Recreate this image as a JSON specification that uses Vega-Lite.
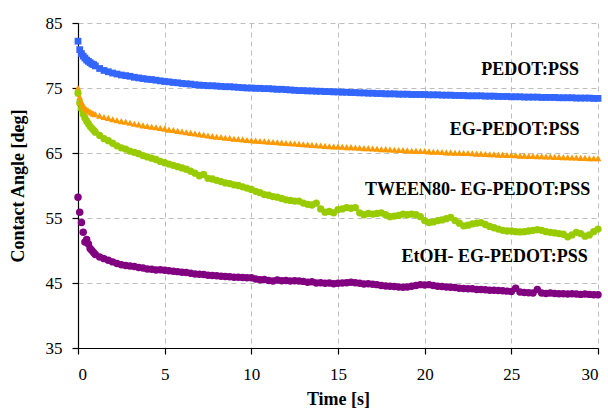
{
  "$schema": "https://vega.github.io/schema/vega-lite/v6.json",
  "width": 520,
  "height": 325,
  "autosize": {"type": "none"},
  "padding": {"left": 78, "top": 23, "right": 10, "bottom": 62},
  "background": "white",
  "config": {
    "font": "Liberation Serif",
    "view": {"stroke": null},
    "axis": {
      "grid": true,
      "gridColor": "#BDBDBD",
      "gridDash": [5, 4],
      "gridWidth": 1,
      "domainColor": "#000000",
      "domainWidth": 1.2,
      "tickColor": "#000000",
      "tickSize": 6,
      "tickWidth": 1.2,
      "labelColor": "#000000",
      "labelFontSize": 17,
      "labelFont": "Liberation Serif",
      "titleColor": "#000000",
      "titleFont": "Liberation Serif",
      "titleFontSize": 18,
      "titleFontWeight": "bold"
    }
  },
  "datasets": {
    "angles": [
      {"t": 0, "p": 82.2, "e": 75.0, "w": 74.2, "o": 58.2},
      {"t": 0.1, "p": 80.9, "e": 73.6, "w": 72.7, "o": 55.9},
      {"t": 0.2, "p": 80.3, "e": 72.8, "w": 71.8, "o": 54.3},
      {"t": 0.3, "p": 79.9, "e": 72.3, "w": 71.0, "o": 52.8},
      {"t": 0.4, "p": 79.6, "e": 71.9, "w": 70.4, "o": 51.3},
      {"t": 0.5, "p": 79.3, "e": 71.7, "w": 69.9, "o": 51.7},
      {"t": 0.6, "p": 79.1, "e": 71.5, "w": 69.5, "o": 51.0},
      {"t": 0.7, "p": 78.9, "e": 71.35, "w": 69.1, "o": 50.3},
      {"t": 0.8, "p": 78.7, "e": 71.2, "w": 68.8, "o": 50.0},
      {"t": 0.9, "p": 78.6, "e": 71.05, "w": 68.5, "o": 49.7},
      {"t": 1.0, "p": 78.4, "e": 70.95, "w": 68.2, "o": 49.4},
      {"t": 1.25, "p": 78.0, "e": 70.75, "w": 67.7, "o": 49.0},
      {"t": 1.5, "p": 77.7, "e": 70.55, "w": 67.2, "o": 48.75},
      {"t": 1.75, "p": 77.5, "e": 70.4, "w": 66.9, "o": 48.5},
      {"t": 2.0, "p": 77.3, "e": 70.2, "w": 66.5, "o": 48.25},
      {"t": 2.25, "p": 77.15, "e": 70.05, "w": 66.1, "o": 48.0},
      {"t": 2.5, "p": 77.0, "e": 69.9, "w": 65.8, "o": 47.8},
      {"t": 2.75, "p": 76.9, "e": 69.8, "w": 65.6, "o": 47.7},
      {"t": 3.0, "p": 76.8, "e": 69.65, "w": 65.3, "o": 47.6},
      {"t": 3.25, "p": 76.65, "e": 69.5, "w": 65.1, "o": 47.55},
      {"t": 3.5, "p": 76.55, "e": 69.4, "w": 64.9, "o": 47.4},
      {"t": 3.75, "p": 76.45, "e": 69.25, "w": 64.6, "o": 47.3},
      {"t": 4.0, "p": 76.35, "e": 69.15, "w": 64.4, "o": 47.15},
      {"t": 4.25, "p": 76.3, "e": 69.05, "w": 64.2, "o": 47.1},
      {"t": 4.5, "p": 76.2, "e": 68.95, "w": 64.0, "o": 47.0},
      {"t": 4.75, "p": 76.1, "e": 68.85, "w": 63.7, "o": 47.05},
      {"t": 5.0, "p": 76.0, "e": 68.75, "w": 63.5, "o": 46.95},
      {"t": 5.25, "p": 75.95, "e": 68.6, "w": 63.3, "o": 46.9},
      {"t": 5.5, "p": 75.85, "e": 68.55, "w": 63.1, "o": 46.8},
      {"t": 5.75, "p": 75.8, "e": 68.4, "w": 62.9, "o": 46.75},
      {"t": 6.0, "p": 75.7, "e": 68.3, "w": 62.7, "o": 46.65},
      {"t": 6.25, "p": 75.65, "e": 68.2, "w": 62.5, "o": 46.6},
      {"t": 6.5, "p": 75.6, "e": 68.1, "w": 62.2, "o": 46.5},
      {"t": 6.75, "p": 75.5, "e": 68.0, "w": 61.9, "o": 46.4},
      {"t": 7.0, "p": 75.45, "e": 67.9, "w": 61.5, "o": 46.35},
      {"t": 7.25, "p": 75.4, "e": 67.8, "w": 61.7, "o": 46.3},
      {"t": 7.5, "p": 75.35, "e": 67.7, "w": 61.1, "o": 46.2},
      {"t": 7.75, "p": 75.35, "e": 67.6, "w": 61.0, "o": 46.15},
      {"t": 8.0, "p": 75.3, "e": 67.5, "w": 60.8, "o": 46.1},
      {"t": 8.25, "p": 75.25, "e": 67.45, "w": 60.6, "o": 46.05},
      {"t": 8.5, "p": 75.2, "e": 67.35, "w": 60.4, "o": 46.0},
      {"t": 8.75, "p": 75.2, "e": 67.3, "w": 60.3, "o": 45.95},
      {"t": 9.0, "p": 75.15, "e": 67.2, "w": 60.1, "o": 45.9},
      {"t": 9.25, "p": 75.1, "e": 67.15, "w": 60.0, "o": 45.9},
      {"t": 9.5, "p": 75.05, "e": 67.1, "w": 59.8, "o": 45.85},
      {"t": 9.75, "p": 75.0, "e": 67.0, "w": 59.6, "o": 45.8},
      {"t": 10.0, "p": 75.0, "e": 66.95, "w": 59.4, "o": 45.8},
      {"t": 10.25, "p": 74.95, "e": 66.9, "w": 59.1, "o": 45.6},
      {"t": 10.5, "p": 74.95, "e": 66.85, "w": 58.9, "o": 45.5},
      {"t": 10.75, "p": 74.9, "e": 66.8, "w": 58.6, "o": 45.55},
      {"t": 11.0, "p": 74.9, "e": 66.75, "w": 58.5, "o": 45.4},
      {"t": 11.25, "p": 74.85, "e": 66.7, "w": 58.3, "o": 45.3},
      {"t": 11.5, "p": 74.8, "e": 66.65, "w": 58.2, "o": 45.45},
      {"t": 11.75, "p": 74.8, "e": 66.6, "w": 58.0, "o": 45.35},
      {"t": 12.0, "p": 74.75, "e": 66.55, "w": 57.8, "o": 45.4},
      {"t": 12.25, "p": 74.7, "e": 66.5, "w": 57.7, "o": 45.3},
      {"t": 12.5, "p": 74.65, "e": 66.45, "w": 57.6, "o": 45.35},
      {"t": 12.75, "p": 74.6, "e": 66.4, "w": 57.6, "o": 45.3},
      {"t": 13.0, "p": 74.6, "e": 66.35, "w": 57.3, "o": 45.25},
      {"t": 13.25, "p": 74.55, "e": 66.3, "w": 57.1, "o": 45.1},
      {"t": 13.5, "p": 74.55, "e": 66.25, "w": 57.0, "o": 45.2},
      {"t": 13.75, "p": 74.5, "e": 66.2, "w": 57.3, "o": 45.0},
      {"t": 14.0, "p": 74.5, "e": 66.15, "w": 56.4, "o": 45.05},
      {"t": 14.25, "p": 74.45, "e": 66.1, "w": 55.9, "o": 44.95},
      {"t": 14.5, "p": 74.45, "e": 66.05, "w": 56.0, "o": 45.0},
      {"t": 14.75, "p": 74.4, "e": 66.0, "w": 55.8, "o": 44.9},
      {"t": 15.0, "p": 74.4, "e": 66.0, "w": 56.3, "o": 44.95},
      {"t": 15.25, "p": 74.35, "e": 65.95, "w": 56.4, "o": 45.0},
      {"t": 15.5, "p": 74.35, "e": 65.9, "w": 56.6, "o": 45.05},
      {"t": 15.75, "p": 74.3, "e": 65.9, "w": 56.5, "o": 45.1},
      {"t": 16.0, "p": 74.3, "e": 65.85, "w": 56.6, "o": 45.05},
      {"t": 16.25, "p": 74.25, "e": 65.8, "w": 55.8, "o": 44.95},
      {"t": 16.5, "p": 74.25, "e": 65.75, "w": 55.5, "o": 44.85},
      {"t": 16.75, "p": 74.2, "e": 65.75, "w": 55.7, "o": 44.9},
      {"t": 17.0, "p": 74.2, "e": 65.7, "w": 55.6, "o": 44.8},
      {"t": 17.25, "p": 74.15, "e": 65.65, "w": 55.7, "o": 44.75},
      {"t": 17.5, "p": 74.15, "e": 65.6, "w": 55.8, "o": 44.6},
      {"t": 17.75, "p": 74.1, "e": 65.6, "w": 55.5, "o": 44.55},
      {"t": 18.0, "p": 74.1, "e": 65.55, "w": 55.2, "o": 44.5},
      {"t": 18.25, "p": 74.1, "e": 65.5, "w": 55.3, "o": 44.45},
      {"t": 18.5, "p": 74.05, "e": 65.45, "w": 55.4, "o": 44.4},
      {"t": 18.75, "p": 74.05, "e": 65.45, "w": 55.6, "o": 44.35},
      {"t": 19.0, "p": 74.05, "e": 65.4, "w": 55.5, "o": 44.4},
      {"t": 19.25, "p": 74.0, "e": 65.35, "w": 55.6, "o": 44.5},
      {"t": 19.5, "p": 74.0, "e": 65.35, "w": 55.5, "o": 44.6},
      {"t": 19.75, "p": 74.0, "e": 65.3, "w": 55.2, "o": 44.75},
      {"t": 20.0, "p": 74.0, "e": 65.3, "w": 54.6, "o": 44.7},
      {"t": 20.25, "p": 73.95, "e": 65.25, "w": 54.3, "o": 44.75},
      {"t": 20.5, "p": 73.95, "e": 65.2, "w": 54.4, "o": 44.6},
      {"t": 20.75, "p": 73.95, "e": 65.2, "w": 54.6, "o": 44.5},
      {"t": 21.0, "p": 73.9, "e": 65.15, "w": 54.7, "o": 44.45},
      {"t": 21.25, "p": 73.9, "e": 65.1, "w": 54.9, "o": 44.4},
      {"t": 21.5, "p": 73.9, "e": 65.1, "w": 55.1, "o": 44.35},
      {"t": 21.75, "p": 73.85, "e": 65.05, "w": 54.6, "o": 44.3},
      {"t": 22.0, "p": 73.85, "e": 65.05, "w": 54.2, "o": 44.2},
      {"t": 22.25, "p": 73.85, "e": 65.0, "w": 53.8, "o": 44.15},
      {"t": 22.5, "p": 73.8, "e": 65.0, "w": 53.9, "o": 44.1},
      {"t": 22.75, "p": 73.8, "e": 64.95, "w": 54.1, "o": 44.1},
      {"t": 23.0, "p": 73.8, "e": 64.9, "w": 54.2, "o": 44.0},
      {"t": 23.25, "p": 73.8, "e": 64.9, "w": 54.3, "o": 44.0},
      {"t": 23.5, "p": 73.75, "e": 64.85, "w": 54.0, "o": 43.95},
      {"t": 23.75, "p": 73.75, "e": 64.8, "w": 53.7, "o": 43.9},
      {"t": 24.0, "p": 73.75, "e": 64.8, "w": 53.5, "o": 43.9},
      {"t": 24.25, "p": 73.7, "e": 64.75, "w": 53.3, "o": 43.85},
      {"t": 24.5, "p": 73.7, "e": 64.75, "w": 53.1, "o": 43.8},
      {"t": 24.75, "p": 73.7, "e": 64.7, "w": 53.0, "o": 43.75},
      {"t": 25.0, "p": 73.65, "e": 64.7, "w": 53.0, "o": 43.7},
      {"t": 25.25, "p": 73.65, "e": 64.65, "w": 52.9, "o": 44.2},
      {"t": 25.5, "p": 73.65, "e": 64.6, "w": 52.85, "o": 43.6},
      {"t": 25.75, "p": 73.6, "e": 64.6, "w": 52.9, "o": 43.55},
      {"t": 26.0, "p": 73.6, "e": 64.55, "w": 53.0, "o": 43.5},
      {"t": 26.25, "p": 73.6, "e": 64.55, "w": 53.1, "o": 43.45},
      {"t": 26.5, "p": 73.6, "e": 64.5, "w": 53.2, "o": 44.0},
      {"t": 26.75, "p": 73.55, "e": 64.5, "w": 53.1, "o": 43.45},
      {"t": 27.0, "p": 73.55, "e": 64.45, "w": 52.9, "o": 43.4},
      {"t": 27.25, "p": 73.55, "e": 64.45, "w": 52.8, "o": 43.45},
      {"t": 27.5, "p": 73.55, "e": 64.4, "w": 52.7, "o": 43.4},
      {"t": 27.75, "p": 73.5, "e": 64.4, "w": 52.6, "o": 43.35},
      {"t": 28.0, "p": 73.5, "e": 64.35, "w": 52.5, "o": 43.35},
      {"t": 28.25, "p": 73.5, "e": 64.35, "w": 52.1, "o": 43.3},
      {"t": 28.5, "p": 73.5, "e": 64.3, "w": 52.4, "o": 43.35},
      {"t": 28.75, "p": 73.45, "e": 64.3, "w": 52.8, "o": 43.3},
      {"t": 29.0, "p": 73.45, "e": 64.25, "w": 52.6, "o": 43.25},
      {"t": 29.25, "p": 73.45, "e": 64.25, "w": 52.2, "o": 43.3},
      {"t": 29.5, "p": 73.45, "e": 64.2, "w": 52.4, "o": 43.25},
      {"t": 29.75, "p": 73.4, "e": 64.2, "w": 52.9, "o": 43.2},
      {"t": 30.0, "p": 73.4, "e": 64.2, "w": 53.3, "o": 43.2}
    ],
    "labels": [
      {"name": "PEDOT:PSS", "x": 28.9, "y": 77.05},
      {"name": "EG-PEDOT:PSS", "x": 28.93, "y": 67.8},
      {"name": "TWEEN80- EG-PEDOT:PSS", "x": 29.55, "y": 58.6},
      {"name": "EtOH- EG-PEDOT:PSS", "x": 29.41, "y": 48.3}
    ]
  },
  "layer": [
    {
      "data": {"name": "angles"},
      "transform": [{"fold": ["p", "e", "w", "o"], "as": ["series", "angle"]}],
      "mark": {"type": "point", "filled": true, "opacity": 1, "strokeWidth": 0},
      "encoding": {
        "x": {
          "field": "t",
          "type": "quantitative",
          "scale": {"domain": [0, 30], "nice": false},
          "axis": {
            "title": "Time [s]",
            "values": [0, 5, 10, 15, 20, 25, 30],
            "labelFont": "Liberation Serif",
            "labelPadding": 12,
            "titleY": 56,
            "titleBaseline": "alphabetic"
          }
        },
        "y": {
          "field": "angle",
          "type": "quantitative",
          "scale": {"domain": [35, 85], "nice": false, "zero": false},
          "axis": {
            "title": "Contact Angle [deg]",
            "values": [35, 45, 55, 65, 75, 85],
            "labelFont": "Liberation Serif",
            "labelPadding": 10,
            "titleX": -60,
            "titleY": 162.5,
            "titleBaseline": "middle"
          }
        },
        "color": {
          "field": "series",
          "type": "nominal",
          "legend": null,
          "scale": {"domain": ["p", "e", "w", "o"], "range": ["#3366FF", "#FF9900", "#99CC00", "#800080"]}
        },
        "shape": {
          "field": "series",
          "type": "nominal",
          "legend": null,
          "scale": {"domain": ["p", "e", "w", "o"], "range": ["square", "triangle-up", "circle", "circle"]}
        },
        "size": {
          "field": "series",
          "type": "nominal",
          "legend": null,
          "scale": {"domain": ["p", "e", "w", "o"], "range": [46, 56, 34, 34]}
        }
      }
    },
    {
      "data": {"name": "labels"},
      "mark": {"type": "text", "align": "right", "baseline": "alphabetic", "font": "Liberation Serif", "fontSize": 18, "fontWeight": "bold", "color": "#000000"},
      "encoding": {
        "x": {"field": "x", "type": "quantitative"},
        "y": {"field": "y", "type": "quantitative"},
        "text": {"field": "name"}
      }
    }
  ]
}
